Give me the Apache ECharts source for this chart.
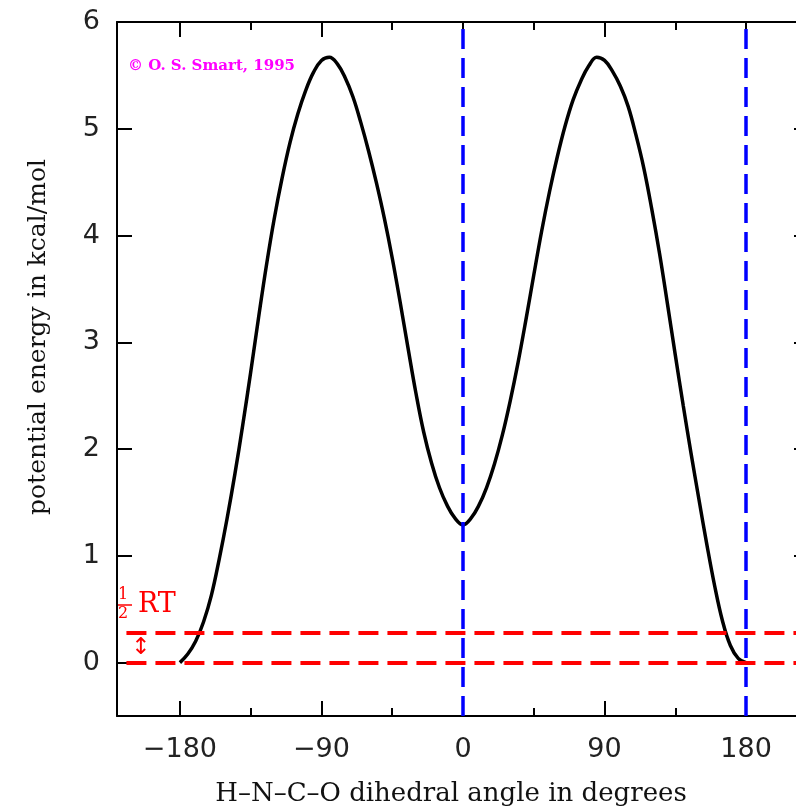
<!DOCTYPE html>
<html>
<head>
<meta charset="utf-8">
<script src="https://cdn.jsdelivr.net/npm/echarts@6/dist/echarts.min.js"></script>
<style>
  html, body { margin: 0; padding: 0; background: #fff; }
  #chart { width: 796px; height: 809px; }
</style>
</head>
<body>
<div id="chart"></div>
<script>
// H-N-C-O torsion profile, every 5 degrees
const angles = [
  -180, -175, -170, -165, -160, -155, -150, -145, -140, -135,
  -130, -125, -120, -115, -110, -105, -100, -95, -90,
  -85, -80, -75, -70, -65, -60, -55, -50, -45, -40,
  -35, -30, -25, -20, -15, -10, -5, 0, 5, 10,
  15, 20, 25, 30, 35, 40, 45, 50, 55, 60,
  65, 70, 75, 80, 85, 90, 95, 100, 105,
  110, 115, 120, 125, 130, 135, 140, 145, 150, 155,
  160, 165, 170, 175, 180
];
const energies = [
  0.00, 0.08, 0.20, 0.38, 0.63, 0.97, 1.35, 1.77, 2.23, 2.72,
  3.23, 3.72, 4.16, 4.54, 4.87, 5.14, 5.36, 5.53, 5.64,
  5.67, 5.61, 5.48, 5.30, 5.06, 4.79, 4.49, 4.16, 3.79, 3.38,
  2.95, 2.53, 2.16, 1.87, 1.64, 1.47, 1.35, 1.29, 1.35, 1.47,
  1.64, 1.86, 2.13, 2.45, 2.81, 3.21, 3.63, 4.04, 4.41, 4.74,
  5.03, 5.27, 5.45, 5.59, 5.67, 5.64, 5.54, 5.40, 5.21,
  4.94, 4.63, 4.25, 3.83, 3.36, 2.88, 2.41, 1.96, 1.53, 1.11,
  0.72, 0.39, 0.16, 0.04, 0.00
];

const xMajorTicks = [-180, -90, 0, 90, 180];
const xMinorTicks = [-135, -45, 45, 135];
const yTicks = [0, 1, 2, 3, 4, 5, 6];

const verticalMarks = [0, 180];     // cis / trans positions
const energyLevels = [0, 0.28];     // ground level and 1/2 RT
const levelStartX = -214;

const black = '#000';
const tickFont = 'DejaVu Sans';
const titleFont = 'DejaVu Serif';

function minusLabel(v) {
  return v < 0 ? '\u2212' + Math.abs(v) : String(v);
}

function tickAxis(pos, values, len, extra) {
  return Object.assign({
    type: 'value', min: -220, max: 220, position: pos,
    axisLine: { show: false, onZero: false },
    axisTick: { show: true, inside: true, length: len, customValues: values,
      lineStyle: { color: black, width: 2 } },
    axisLabel: { show: false },
    splitLine: { show: false }
  }, extra || {});
}

const chart = echarts.init(document.getElementById('chart'));

const option = {
  animation: false,
  backgroundColor: '#fff',
  grid: { left: 117, right: -13, top: 22, bottom: 93, outerBoundsMode: 'none' },
  xAxis: [
    {
      type: 'value', min: -220, max: 220, position: 'bottom',
      axisLine: { show: true, onZero: false, lineStyle: { color: black, width: 2 } },
      axisTick: { show: true, inside: true, length: 15, customValues: xMajorTicks,
        lineStyle: { color: black, width: 2 } },
      axisLabel: { customValues: xMajorTicks, formatter: minusLabel, margin: 20,
        fontFamily: tickFont, fontSize: 27, color: '#222' },
      splitLine: { show: false },
      name: 'H\u2013N\u2013C\u2013O dihedral angle in degrees',
      nameLocation: 'middle', nameGap: 65, nameMoveOverlap: false,
      nameTextStyle: { fontFamily: titleFont, fontSize: 26, color: '#111',
        padding: [0, 24, 0, 0] }
    },
    tickAxis('bottom', xMinorTicks, 8),
    tickAxis('top', xMajorTicks, 15, {
      axisLine: { show: true, onZero: false, lineStyle: { color: black, width: 2 } }
    }),
    tickAxis('top', xMinorTicks, 8)
  ],
  yAxis: [
    {
      type: 'value', min: -0.5, max: 6, position: 'left',
      axisLine: { show: true, onZero: false, lineStyle: { color: black, width: 2 } },
      axisTick: { show: true, inside: true, length: 15, customValues: yTicks,
        lineStyle: { color: black, width: 2 } },
      axisLabel: { customValues: yTicks, margin: 17,
        fontFamily: tickFont, fontSize: 27, color: '#222' },
      splitLine: { show: false },
      name: 'potential energy in kcal/mol',
      nameLocation: 'middle', nameGap: 66, nameMoveOverlap: false,
      nameTextStyle: { fontFamily: titleFont, fontSize: 25, color: '#111',
        padding: [0, 0, 0, 64] }
    },
    {
      type: 'value', min: -0.5, max: 6, position: 'right',
      axisLine: { show: true, onZero: false, lineStyle: { color: black, width: 2 } },
      axisTick: { show: true, inside: true, length: 15, customValues: yTicks,
        lineStyle: { color: black, width: 2 } },
      axisLabel: { show: false },
      splitLine: { show: false }
    }
  ],
  series: [
    {
      type: 'line',
      data: angles.map((a, i) => [a, energies[i]]),
      smooth: 0.4,
      showSymbol: false,
      lineStyle: { color: black, width: 3.5 },
      markLine: {
        silent: true,
        symbol: 'none',
        label: { show: false },
        data: [
          ...energyLevels.map(v => [
            { coord: [levelStartX, v], lineStyle: { color: '#ff0000', width: 4, type: [20, 9] } },
            { coord: [220, v] }
          ]),
          ...verticalMarks.map(v => ({
            xAxis: v, lineStyle: { color: '#0000ff', width: 3.5, type: [20, 9] }
          }))
        ]
      }
    }
  ],
  graphic: [
    {
      type: 'text', left: 128, top: 59,
      style: { text: '\u00a9 O. S. Smart, 1995', fill: '#ff00ff',
        font: 'bold 15px "DejaVu Serif"' }
    },
    {
      type: 'text', left: 118, top: 587,
      style: { text: '1', fill: '#ff0000', font: '16px "DejaVu Serif"' }
    },
    {
      type: 'line', shape: { x1: 116, y1: 605, x2: 132, y2: 605 },
      style: { stroke: '#ff0000', lineWidth: 1.5 }
    },
    {
      type: 'text', left: 118, top: 606,
      style: { text: '2', fill: '#ff0000', font: '16px "DejaVu Serif"' }
    },
    {
      type: 'text', left: 138, top: 591,
      style: { text: 'RT', fill: '#ff0000', font: '27px "DejaVu Serif"' }
    },
    {
      type: 'text', left: 131, top: 637,
      style: { text: '\u2195', fill: '#ff0000', font: '23px "DejaVu Sans"' }
    }
  ]
};

chart.setOption(option);
</script>
</body>
</html>
